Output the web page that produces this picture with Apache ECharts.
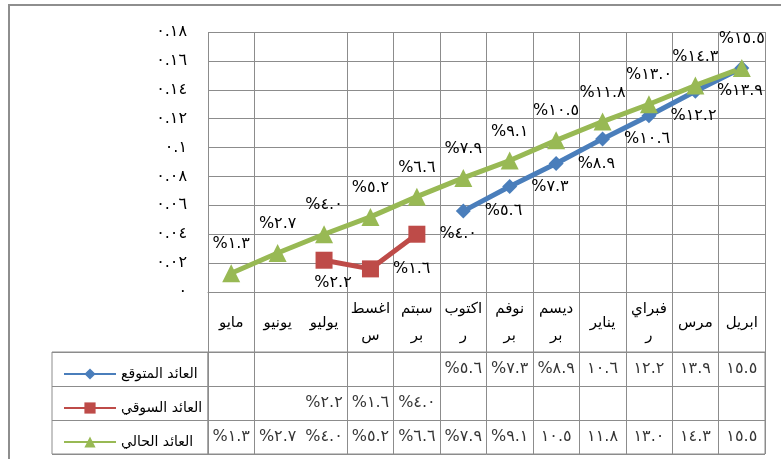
<!DOCTYPE html>
<html>
<head>
<meta charset="utf-8">
<script src="https://cdn.jsdelivr.net/npm/echarts@6/dist/echarts.min.js"></script>
<style>
    html, body { margin: 0; padding: 0; background: #fff; }
    #main { width: 781px; height: 459px; }
    /* outer chart frame, only its top and left edges are visible */
    #frame {
        position: absolute; left: 8px; top: 4px; width: 820px; height: 500px;
        border-left: 2px solid #8e8e8e; border-top: 2px solid #8e8e8e;
        pointer-events: none;
    }
</style>
</head>
<body>
<div id="main"></div>
<div id="frame"></div>
<script>
// 月份（从左到右）
var months = ['مايو', 'يونيو', 'يوليو', 'اغسطس', 'سبتمبر', 'اكتوبر', 'نوفمبر', 'ديسمبر', 'يناير', 'فبراير', 'مرس', 'ابريل'];
// 表头里折行显示的月份
var monthLabels = ['مايو', 'يونيو', 'يوليو', 'اغسط\nس', 'سبتم\nبر', 'اكتوب\nر', 'نوفم\nبر', 'ديسم\nبر', 'يناير', 'فبراي\nر', 'مرس', 'ابريل'];
// 三条线
var expectedReturn = [null, null, null, null, null, 0.056, 0.073, 0.089, 0.106, 0.122, 0.139, 0.155];
var marketReturn = [null, null, 0.022, 0.016, 0.040, null, null, null, null, null, null, null];
var currentReturn = [0.013, 0.027, 0.040, 0.052, 0.066, 0.079, 0.091, 0.105, 0.118, 0.130, 0.143, 0.155];
var seriesNames = ['العائد المتوقع', 'العائد السوقي', 'العائد الحالي'];
// y轴刻度
var yMin = 0, yMax = 0.18, yStep = 0.02;
var arabicDigits = ['٠', '١', '٢', '٣', '٤', '٥', '٦', '٧', '٨', '٩'];

var FONT = 'DejaVu Sans';
var GRID_COLOR = '#8c8c8c';

function toArabic(str) {
    return String(str).replace(/[0-9]/g, function (d) { return arabicDigits[+d]; });
}
function pct(v) {
    return '%' + toArabic((v * 100).toFixed(1));
}
// 表格里 10% 以上的数字显示不下百分号
function cellText(v) {
    var s = toArabic((v * 100).toFixed(1));
    return v >= 0.1 ? s : '%' + s;
}
// 六月和七月之间没有竖线
function skipLine(index) {
    return index !== 2;
}

// 表格单元格
var cells = [];
[expectedReturn, marketReturn, currentReturn].forEach(function (arr, row) {
    arr.forEach(function (v, i) {
        if (v != null) cells.push([i, row, v]);
    });
});

var labelStyle = {
    show: true,
    fontFamily: FONT,
    fontSize: 16,
    color: '#000',
    formatter: function (p) { return pct(p.value); }
};

var chart = echarts.init(document.getElementById('main'));
var option = {
    backgroundColor: '#fff',
    animation: false,
    textStyle: { fontFamily: FONT },
    legend: {
        data: seriesNames,
        orient: 'vertical',
        left: 58,
        top: 362,
        itemGap: 20,
        itemWidth: 52,
        itemHeight: 14,
        textStyle: { fontFamily: FONT, fontSize: 14, color: '#000' }
    },
    grid: [
        { left: 208, right: 16, top: 32, height: 260 },
        { left: 208, right: 16, top: 352, height: 102, show: true, borderColor: GRID_COLOR, borderWidth: 1 },
        { left: 52, width: 156, top: 352, height: 102, show: true, borderColor: GRID_COLOR, borderWidth: 1 }
    ],
    xAxis: [
        {
            type: 'category',
            gridIndex: 0,
            data: months,
            boundaryGap: true,
            axisLine: { show: true, lineStyle: { color: GRID_COLOR } },
            axisTick: { show: true, length: 60, interval: skipLine, lineStyle: { color: GRID_COLOR } },
            splitLine: { show: true, interval: skipLine, lineStyle: { color: GRID_COLOR } },
            axisLabel: {
                interval: 0,
                margin: 31,
                verticalAlign: 'middle',
                lineHeight: 27,
                fontFamily: FONT,
                fontSize: 15,
                color: '#000',
                formatter: function (value, index) { return monthLabels[index]; }
            }
        },
        {
            type: 'category',
            gridIndex: 1,
            data: months,
            boundaryGap: true,
            axisLine: { show: false },
            axisTick: { show: false },
            axisLabel: { show: false },
            splitLine: { show: true, interval: skipLine, lineStyle: { color: GRID_COLOR } }
        },
        {
            type: 'value',
            gridIndex: 2,
            show: false
        }
    ],
    yAxis: [
        {
            type: 'value',
            gridIndex: 0,
            min: yMin,
            max: yMax,
            interval: yStep,
            axisLine: { show: false },
            axisTick: { show: false },
            splitLine: { show: true, lineStyle: { color: GRID_COLOR } },
            axisLabel: {
                margin: 21,
                fontFamily: FONT,
                fontSize: 16,
                color: '#000',
                formatter: function (v) { return toArabic(parseFloat(v.toFixed(2))); }
            }
        },
        {
            type: 'category',
            gridIndex: 1,
            inverse: true,
            data: seriesNames,
            boundaryGap: true,
            axisLine: { show: false },
            axisTick: { show: false },
            axisLabel: { show: false },
            splitLine: { show: true, lineStyle: { color: GRID_COLOR } }
        },
        {
            type: 'category',
            gridIndex: 2,
            inverse: true,
            data: seriesNames,
            boundaryGap: true,
            axisLine: { show: false },
            axisTick: { show: false },
            axisLabel: { show: false },
            splitLine: { show: true, lineStyle: { color: GRID_COLOR } }
        }
    ],
    series: [
        {
            name: seriesNames[0],
            type: 'line',
            data: expectedReturn.map(function (v, i) {
                // 四月的标签画在图外，看不到
                return i === expectedReturn.length - 1 ? { value: v, label: { show: false } } : v;
            }),
            symbol: 'diamond',
            symbolSize: 15,
            lineStyle: { width: 5, color: '#4a7ebb' },
            itemStyle: { color: '#4a7ebb' },
            label: Object.assign({ position: 'right', distance: 14 }, labelStyle)
        },
        {
            name: seriesNames[1],
            type: 'line',
            data: marketReturn.map(function (v, i) {
                return i === 2 ? { value: v, label: { position: 'bottom', offset: [9, -8] } } : v;
            }),
            symbol: 'rect',
            symbolSize: 17,
            lineStyle: { width: 5, color: '#be4b48' },
            itemStyle: { color: '#be4b48' },
            label: Object.assign({ position: 'right', distance: 14 }, labelStyle)
        },
        {
            name: seriesNames[2],
            type: 'line',
            data: currentReturn,
            symbol: 'triangle',
            symbolSize: 18,
            lineStyle: { width: 5, color: '#98b954' },
            itemStyle: { color: '#98b954' },
            label: Object.assign({ position: 'top', distance: 12 }, labelStyle)
        },
        {
            name: 'table',
            type: 'scatter',
            xAxisIndex: 1,
            yAxisIndex: 1,
            data: cells,
            symbolSize: 0,
            silent: true,
            label: {
                show: true,
                position: 'inside',
                fontFamily: FONT,
                fontSize: 16,
                color: '#000',
                formatter: function (p) { return cellText(p.value[2]); }
            }
        }
    ]
};
chart.setOption(option);
</script>
</body>
</html>
